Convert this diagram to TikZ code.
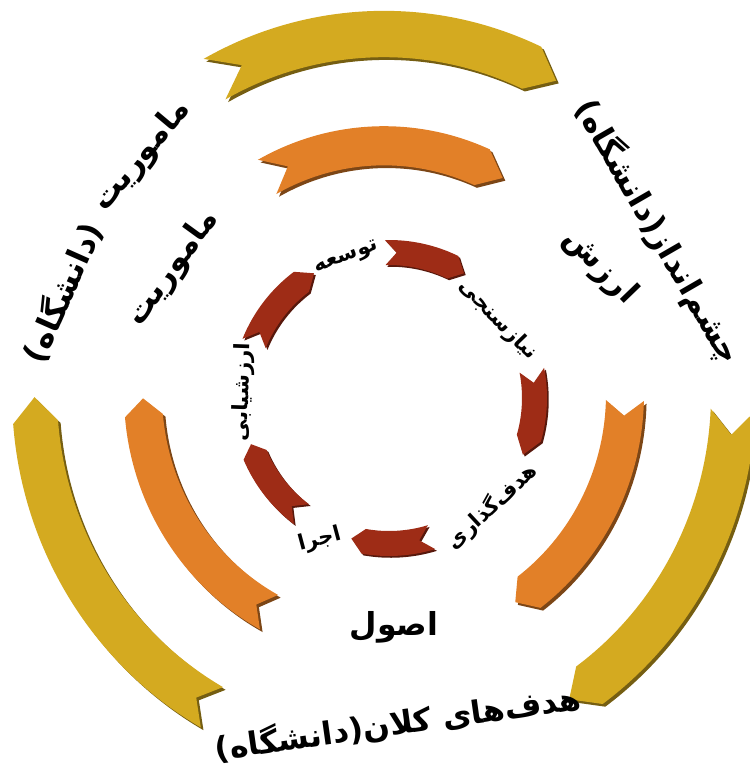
\documentclass[tikz,border=0pt]{standalone}
\usepackage{fontspec}
\newfontfamily\arabicfont[Script=Arabic]{DejaVu Sans}
\TeXXeTstate=1
\usepackage{tikz}

\definecolor{gold}{RGB}{212,170,32}
\definecolor{orangemid}{RGB}{226,128,40}
\definecolor{rust}{RGB}{158,44,22}

\tikzset{
 bigtxt/.style={font=\arabicfont\bfseries\fontsize{18}{21}\selectfont,inner sep=0pt},
 smalltxt/.style={font=\arabicfont\bfseries\fontsize{12}{14}\selectfont,inner sep=0pt}
}

\begin{document}
\begin{tikzpicture}[x=0.02cm,y=0.02cm]
 \useasboundingbox (-384,-380) rectangle (366,394);

 % outer and middle rings: colour/inner r/outer r/tail/head/notch/tip
 \begin{scope}[yscale=1.03]
 \foreach \col/\ri/\ro/\a/\b/\dn/\dh in {
   gold/327/372/119/65/5/4.5, gold/327/372/-2.5/-54/4/4, gold/327/372/240.5/184.5/3/4,
   orangemid/222/260/119/66/5.5/5.5, orangemid/222/260/-1.5/-53/3.5/4,
   orangemid/222/260/241.5/185/3.5/4}{
  \fill[\col!55!black,xshift=1.5pt,yshift=-1.5pt] (\a:\ro) arc[start angle=\a,end angle=\b,radius=\ro]
   -- ({\b-\dh}:{(\ri+\ro)/2}) -- (\b:\ri) arc[start angle=\b,end angle=\a,radius=\ri]
   -- ({\a-\dn}:{(\ri+\ro)/2}) -- cycle;
  \fill[\col] (\a:\ro) arc[start angle=\a,end angle=\b,radius=\ro]
   -- ({\b-\dh}:{(\ri+\ro)/2}) -- (\b:\ri) arc[start angle=\b,end angle=\a,radius=\ri]
   -- ({\a-\dn}:{(\ri+\ro)/2}) -- cycle;
 }
 \end{scope}

 % inner ring
 \begin{scope}[shift={(5,-4)}]
 \foreach \a/\b/\dn/\dh in {91.5/64/4.5/5, 11/-16/5/7, -73/-100/5/5, 233/203/5/4.5, 158/127/5/6}{
  \fill[rust!55!black,xshift=1pt,yshift=-1pt] (\a:158) arc[start angle=\a,end angle=\b,radius=158]
   -- ({\b-\dh}:145.5) -- (\b:133) arc[start angle=\b,end angle=\a,radius=133]
   -- ({\a-\dn}:145.5) -- cycle;
  \fill[rust] (\a:158) arc[start angle=\a,end angle=\b,radius=158]
   -- ({\b-\dh}:145.5) -- (\b:133) arc[start angle=\b,end angle=\a,radius=133]
   -- ({\a-\dn}:145.5) -- cycle;
 }
 \end{scope}

 % outer labels
 \node[bigtxt,rotate=50] (mission1) at (-242,238) {\beginR ماموریت\endR};
 \node[bigtxt,rotate=66] (mission2) at (-322,102) {\beginR (دانشگاه)\endR};
 \node[bigtxt,rotate=-60] (vision) at (274,162) {\beginR چشم^^^^200cانداز(دانشگاه)\endR};
 \node[bigtxt,rotate=8] (goals) at (14,-329) {\beginR هدف^^^^200cهای کلان(دانشگاه)\endR};

 % middle labels
 \node[bigtxt,rotate=54] (mission) at (-211,126) {\beginR ماموریت\endR};
 \node[bigtxt,rotate=-46] (values) at (216,127) {\beginR ارزش\endR};
 \node[bigtxt] (principles) at (10,-233) {\beginR اصول\endR};

 % inner labels
 \node[smalltxt,rotate=21] (develop) at (-37,136) {\beginR توسعه\endR};
 \node[smalltxt,rotate=-46] (needs) at (114,74) {\beginR نیازسنجی\endR};
 \node[smalltxt,rotate=43] (goalset) at (108,-112) {\beginR هدف^^^^200cگذاری\endR};
 \node[smalltxt,rotate=15] (execute) at (-64,-146) {\beginR اجرا\endR};
 \node[smalltxt,rotate=88] (evaluate) at (-141,2) {\beginR ارزشیابی\endR};
\end{tikzpicture}
\end{document}
